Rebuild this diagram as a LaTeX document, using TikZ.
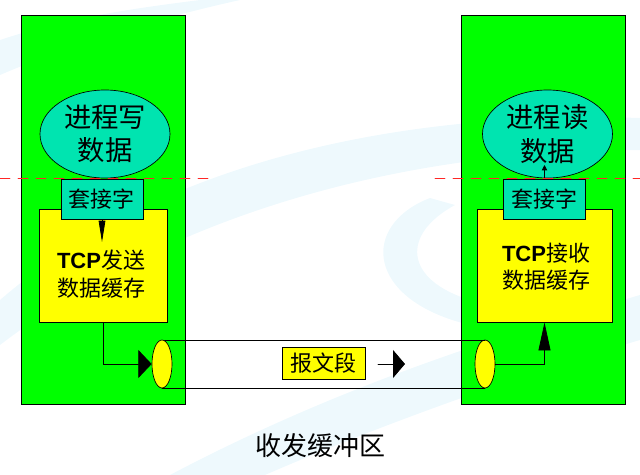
\documentclass[tikz,border=0pt]{standalone}
\usepackage{fontspec}
\setmainfont{Liberation Sans}
\setsansfont{Liberation Sans}
\newfontfamily\cjk{Noto Sans CJK SC}
\usepackage{tikz}
\usetikzlibrary{arrows.meta,shapes.geometric}
\usepackage{xcolor}
\definecolor{hostgreen}{RGB}{0,255,0}
\definecolor{socketteal}{RGB}{0,228,176}
\definecolor{bufyellow}{RGB}{255,255,0}
\definecolor{swoosh}{RGB}{238,249,253}

\begin{document}
\begin{tikzpicture}[x=0.75pt,y=-0.75pt,line cap=round,
  host/.style={draw=black,fill=hostgreen,line width=0.7pt,minimum width=164*0.75pt,minimum height=389*0.75pt,inner sep=0pt},
  proc/.style={ellipse,draw=black,fill=socketteal,line width=0.5pt,minimum width=130*0.75pt,minimum height=88*0.75pt,inner sep=0pt,align=center,font=\cjk\fontsize{20.5}{25}\selectfont},
  sockbox/.style={draw=black,fill=socketteal,line width=0.7pt,minimum width=82*0.75pt,minimum height=40*0.75pt,inner sep=0pt,font=\cjk\fontsize{16.5}{20}\selectfont},
  bufbox/.style={draw=black,fill=bufyellow,line width=0.7pt,minimum width=128*0.75pt,minimum height=113*0.75pt,inner sep=0pt},
  buftext/.style={align=center,inner sep=0pt,font=\fontsize{16.5}{20.5}\selectfont},
  pipecap/.style={ellipse,draw=black,fill=bufyellow,line width=0.5pt,minimum width=20*0.75pt,minimum height=48*0.75pt,inner sep=0pt},
  seglabel/.style={draw=black,fill=bufyellow,line width=0.7pt,minimum width=83*0.75pt,minimum height=32*0.75pt,inner sep=0pt,font=\cjk\fontsize{16.5}{20}\selectfont},
  cutline/.style={red!85,line width=0.6pt,dash pattern=on 7.5pt off 6pt},
  flow/.style={line width=0.6pt}]
\useasboundingbox (0,0) rectangle (640,475);
\fill[swoosh] (0,300) .. controls (150,170) and (380,110) .. (640,118) -- (640,150) .. controls (400,150) and (170,215) .. (0,345) -- cycle;
\fill[swoosh] (170,475) .. controls (350,380) and (520,330) .. (640,295) -- (640,340) .. controls (520,375) and (380,425) .. (265,475) -- cycle;
\fill[swoosh] (430,198) .. controls (360,225) and (365,300) .. (470,325) -- (470,300) .. controls (405,280) and (400,235) .. (455,205) -- cycle;
\fill[swoosh] (0,40) .. controls (60,20) and (120,10) .. (200,0) -- (240,0) .. controls (150,20) and (70,45) .. (0,75) -- cycle;

\node[host] (hostL) at (103,209.5) {};
\node[host] (hostR) at (543,209.5) {};

\node[bufbox] (sendBuf) at (103,265.5) {};
\node[bufbox,minimum width=135*0.75pt] (recvBuf) at (544.5,265.5) {};
\node[buftext] (sendTxt) at (101,274) {\textbf{TCP}{\cjk 发送}\\{\cjk 数据缓存}};
\node[buftext] (recvTxt) at (546,267) {\textbf{TCP}{\cjk 接收}\\{\cjk 数据缓存}};

\node[proc] (writeProc) at (105,134) {进程写\\数据};
\node[proc] (readProc) at (547.5,134) {进程读\\数据};

\node[sockbox] (sockL) at (102,199) {套接字};
\node[sockbox] (sockR) at (544.5,199) {套接字};

\node[pipecap] (capR) at (485,364) {};
\draw[line width=0.6pt] (485,340) -- (162,340);
\draw[line width=0.6pt] (485,388) -- (162,388);
\node[pipecap] (capL) at (162,364) {};

\node[seglabel] (segLbl) at (323.5,363) {报文段};

\coordinate (dnTip) at (102,242);
\coordinate (upTip) at (544.5,165);
\coordinate (midTail) at (378,364);
\coordinate (midTip) at (405,364);

\draw[flow,-{Triangle[length=16pt,width=5pt]}] (sockL.south) -- (dnTip);
\draw[flow,-{Triangle[length=4pt,width=4pt]}] (sockR.north) -- (upTip);
\draw[flow,-{Triangle[length=10pt,width=21pt]}] (sendBuf.south) |- (capL.west);
\draw[flow,-{Triangle[length=21pt,width=9pt]}] (capR.east) -| (recvBuf.south);
\draw[flow,-{Triangle[length=9pt,width=21pt]}] (midTail) -- (midTip);

\draw[cutline] (0,178) -- (213,178);
\draw[cutline] (435,178) -- (640,178);

\node[font=\cjk\fontsize{19.5}{24}\selectfont] (caption) at (320,446) {收发缓冲区};
\end{tikzpicture}
\end{document}
